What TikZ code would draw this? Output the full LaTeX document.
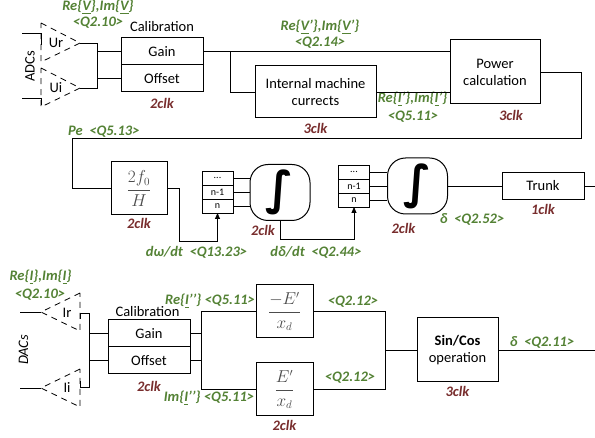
\documentclass[tikz,border=0pt]{standalone}
\usepackage{amsmath}
\usepackage{fontspec}
\setmainfont{Carlito}
\newfontfamily\symfont{DejaVu Sans}
\usepackage{tikz}
\usetikzlibrary{arrows.meta, positioning, calc}

\definecolor{siggreen}{RGB}{84,130,53}
\definecolor{clkbrown}{RGB}{120,45,45}
\newcommand\lblfont{\fontsize{14.5}{17}\selectfont}
\newcommand\cellfont{\fontsize{10}{12}\selectfont}
\newcommand\fracfont{\fontsize{16}{19}\selectfont}
\newcommand\bigint{{\symfont\bfseries\fontsize{46}{46}\selectfont ∫}}

\begin{document}
\begin{tikzpicture}[x=1pt, y=-1pt, every node/.style={font=\lblfont},
  blk/.style={draw, line width=1pt, align=center, inner sep=1pt, outer sep=0pt},
  fracblk/.style={blk, minimum width=57pt, minimum height=53pt, text=black!70, font=\fracfont},
  cell/.style={draw, line width=0.8pt, minimum width=31pt, minimum height=14pt, inner sep=0pt, outer sep=0pt, font=\cellfont},
  integ/.style={draw, line width=1pt, rounded corners=18pt, minimum width=60pt, minimum height=56pt, inner sep=0pt},
  sig/.style={font=\lblfont\bfseries\itshape, text=siggreen, inner sep=0pt},
  clk/.style={font=\lblfont\bfseries\itshape, text=clkbrown, inner sep=0pt},
  wire/.style={line width=0.8pt},
  conv/.style={line width=0.8pt, dash pattern=on 6pt off 5pt},
  tip/.style={wire, -{Triangle[length=6pt, width=5pt]}}]
  \useasboundingbox (0,0) rectangle (595,438);

  % ADCs and first calibration
  \draw[conv] (41,23) -- (80,43) coordinate (urtip) -- (41,62) -- cycle;
  \draw[conv] (41,68) -- (80,88) coordinate (uitip) -- (41,107) -- cycle;
  \coordinate (urin) at (22,33);
  \coordinate (uiin) at (22,98);
  \draw[wire] (urin) -- (41,33) -- (41,45);
  \draw[wire] (uiin) -- (41,98) -- (41,105);
  \node[rotate=90] (adcs) at (30,66.5) {ADCs};
  \node (ur) at (56,43) {Ur};
  \node (ui) at (56,88) {Ui};

  \node[blk, minimum width=82pt, minimum height=27pt] (gainA) at (162,51.5) {Gain};
  \node[blk, minimum width=82pt, minimum height=27pt, below=0pt of gainA] (offA) {Offset};
  \node (calA) at (162,27) {Calibration};
  \node[clk, below=6pt of offA] (clkA) {2clk};
  \node[sig] (vin) at (98,7) {Re\{\underline{V}\},Im\{\underline{V}\}};
  \node[sig] (vinq) at (98,23) {<Q2.10>};

  \coordinate (busA) at (97,0);
  \draw[wire] (urtip) -- (urtip -| busA) -- (uitip -| busA) -- (uitip);
  \draw[wire] (gainA.west -| busA) -- (gainA.west);
  \draw[wire] (offA.west -| busA) -- (offA.west);

  % machine model and power
  \node[blk, minimum width=121pt, minimum height=52pt] (imc) at (315.5,92) {Internal machine\\currects};
  \node[clk, below=5pt of imc] (clkI) {3clk};
  \node[blk, minimum width=90pt, minimum height=64pt] (pwr) at (495,72) {Power\\calculation};
  \node[clk, below=6pt of pwr, xshift=16pt] (clkP) {3clk};
  \node[sig] (vp) at (320,27) {Re\{\underline{V}’\},Im\{\underline{V}’\}};
  \node[sig] (vpq) at (320,43) {<Q2.14>};
  \node[sig] (ip) at (412.5,99) {Re\{\underline{I}’\},Im\{\underline{I}’\}};
  \node[sig] (ipq) at (413,117) {<Q5.11>};

  \coordinate (brA) at (230,0);
  \draw[wire] (gainA.east) -- (gainA.east -| pwr.west);
  \draw[wire] (gainA.east -| brA) |- (imc.west);
  \draw[wire] (imc.east) -- (imc.east -| pwr.west);

  % swing equation
  \node[fracblk, minimum width=56pt] (gfrac) at (139,188.5) {$\dfrac{2f_0}{H}$};
  \node[clk, below=3pt of gfrac] (clkG) {2clk};
  \node[sig, anchor=west] (pe) at (68,132) {Pe~~<Q5.13>};

  \node[cell] (r1b) at (217.5,192) {n-1};
  \node[cell, above=0pt of r1b] (r1a) {...};
  \node[cell, below=0pt of r1b] (r1c) {n};
  \node[integ] (int1) at (280,192.5) {\bigint};
  \node[clk, below=4pt of int1, xshift=-17pt] (clk1) {2clk};

  \node[cell] (r2b) at (354,186) {n-1};
  \node[cell, above=0pt of r2b] (r2a) {...};
  \node[cell, below=0pt of r2b] (r2c) {n};
  \node[integ] (int2) at (417.5,186) {\bigint};
  \node[clk, below=9pt of int2, xshift=-14pt] (clk2) {2clk};

  \node[blk, minimum width=82pt, minimum height=27pt] (trunk) at (543,186) {Trunk};
  \node[clk, below=5pt of trunk] (clkT) {1clk};
  \node[sig] (dw) at (196.5,252) {dω/dt~~<Q13.23>};
  \node[sig] (dd) at (316,252) {dδ/dt~~<Q2.44>};
  \node[sig] (del) at (472,219) {δ~~<Q2.52>};

  \coordinate (peR) at (581,138);
  \coordinate (peL) at (72,138);
  \coordinate (dwC) at (179,241);
  \coordinate (ddY) at (0,239);
  \coordinate (outT) at (595,0);
  \draw[wire] (pwr.east) -| (peR) -- (peL) |- (gfrac.west);
  \draw[tip] (gfrac.east) -| (dwC) -| (r1c.south);
  \foreach \c in {r1a,r1b,r1c}
    \draw[wire] (\c.east) -- (\c.east -| int1.west);
  \draw[tip] (int1.south) -- (int1.south |- ddY) -| (r2c.south);
  \foreach \c in {r2a,r2b,r2c}
    \draw[wire] (\c.east) -- (\c.east -| int2.west);
  \draw[wire] (int2.east) -- (trunk.west);
  \draw[wire] (trunk.east) -- (trunk.east -| outT);

  % DACs and output stage
  \draw[conv] (80,293) -- (41,312) coordinate (irtip) -- (80,331) -- cycle;
  \draw[conv] (80,369) -- (41,388) coordinate (iitip) -- (80,407) -- cycle;
  \coordinate (irin) at (20,312);
  \coordinate (iiin) at (20,388);
  \draw[wire] (irin) -- (irtip);
  \draw[wire] (iiin) -- (iitip);
  \node[rotate=90, font=\lblfont\itshape] (dacs) at (23.5,350) {DACs};
  \node (ir) at (67,313) {Ir};
  \node (ii) at (67,388) {Ii};
  \node[sig] (iin) at (40.5,277) {Re\{\underline{I}\},Im\{\underline{I}\}};
  \node[sig] (iinq) at (40,295) {<Q2.10>};

  \node[blk, minimum width=82pt, minimum height=27pt] (gainB) at (149,333.5) {Gain};
  \node[blk, minimum width=82pt, minimum height=27pt, below=0pt of gainB] (offB) {Offset};
  \node (calB) at (147.5,312) {Calibration};
  \node[clk, below=7pt of offB] (clkB) {2clk};

  \node[fracblk] (negE) at (284.5,311.5) {$\dfrac{-E'}{x_d}$};
  \node[fracblk] (posE) at (284.5,389.5) {$\dfrac{E'}{x_d}$};
  \node[clk, below=4pt of posE] (clkE) {2clk};
  \node[sig] (ire) at (210,301) {Re\{\underline{I}’’\}~<Q5.11>};
  \node[sig] (iim) at (209,398) {Im\{\underline{I}’’\}~<Q5.11>};
  \node[sig] (qa) at (353,302) {<Q2.12>};
  \node[sig] (qb) at (350,378) {<Q2.12>};

  \node[blk, minimum width=81pt, minimum height=64pt] (sincos) at (457.5,350) {\textbf{Sin/Cos}\\operation};
  \node[clk, below=4pt of sincos] (clkS) {3clk};
  \node[sig] (dq) at (542,342) {δ~~<Q2.11>};

  \coordinate (busB) at (89,0);
  \coordinate (busC) at (201,0);
  \coordinate (busD) at (385,0);
  \coordinate (irport) at (80,313);
  \coordinate (iiport) at (80,387);
  \draw[wire] (80,319) -- (irport) -- (irport -| busB) -- (iiport -| busB) -- (iiport) -- (80,381);
  \draw[wire] (gainB.west -| busB) -- (gainB.west);
  \draw[wire] (offB.west -| busB) -- (offB.west);
  \draw[wire] (gainB.east) -- (gainB.east -| busC);
  \draw[wire] (offB.east) -- (offB.east -| busC);
  \draw[wire] (negE.west) -- (negE.west -| busC) -- (posE.west -| busC) -- (posE.west);
  \draw[wire] (negE.east) -- (negE.east -| busD) -- (posE.east -| busD) -- (posE.east);
  \draw[wire] (sincos.west -| busD) -- (sincos.west);
  \draw[wire] (sincos.east) -- (sincos.east -| outT);
\end{tikzpicture}
\end{document}
